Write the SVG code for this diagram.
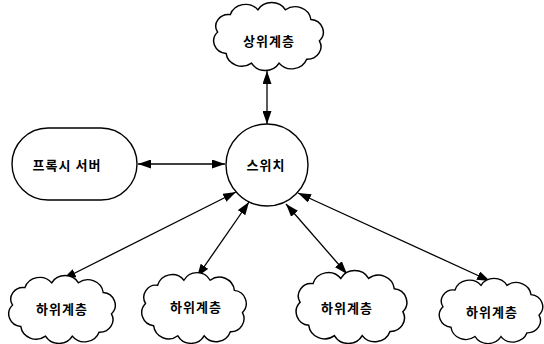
<svg xmlns="http://www.w3.org/2000/svg" width="544" height="344" viewBox="0 0 544 344">
  <style>
    .shape { fill: #fff; stroke: #000; stroke-width: 1.4; }
    .cloud { fill: #fff; stroke: #000; stroke-width: 1.4; vector-effect: non-scaling-stroke; }
    .label { font-family: "Noto Sans CJK KR", sans-serif; font-size: 13px; font-weight: bold; letter-spacing: 1px; fill: #000; text-anchor: middle; dominant-baseline: central; }
    .link { stroke: #000; stroke-width: 1.3; fill: none; marker-start: url(#head); marker-end: url(#head); }
  </style>
  <defs>
    <marker id="head" viewBox="0 0 13 9" refX="13" refY="4.5" markerWidth="13" markerHeight="9" markerUnits="userSpaceOnUse" orient="auto-start-reverse">
      <path d="M0,0 L13,4.5 L0,9 z" fill="#000"/>
    </marker>
    <!-- cloud outline centred on the origin, about 107 x 70 -->
    <path id="cloud" d="M -48,-4 A 12 12 0 0 1 -36,-22 A 15 15 0 0 1 -10,-27 A 15 15 0 0 1 16,-27 A 15 15 0 0 1 40,-17 A 13 13 0 0 1 48,5 A 13 13 0 0 1 36,24 A 15 15 0 0 1 10,28 A 15 15 0 0 1 -16,28 A 15 15 0 0 1 -40,18 A 13 13 0 0 1 -48,-4 Z"/>
  </defs>

  <g id="connectors">
    <line class="link" x1="267" y1="71" x2="267" y2="124"/>
    <line class="link" x1="138" y1="164" x2="225" y2="164"/>
    <line class="link" x1="236" y1="192" x2="63" y2="279"/>
    <line class="link" x1="249" y1="202" x2="197" y2="277"/>
    <line class="link" x1="286" y1="204" x2="347" y2="274"/>
    <line class="link" x1="298" y1="193" x2="490" y2="281"/>
  </g>

  <g id="upper">
    <use href="#cloud" class="cloud" transform="translate(268.5,36) scale(1.06,0.97)"/>
    <text class="label" x="269" y="40">상위계층</text>
  </g>

  <g id="switch">
    <circle class="shape" cx="267" cy="165" r="41"/>
    <text class="label" x="266" y="164">스위치</text>
  </g>

  <g id="proxy">
    <rect class="shape" x="12" y="128" width="125" height="72" rx="36" ry="36"/>
    <text class="label" x="67" y="164">프록시 서버</text>
  </g>

  <g id="lower1">
    <use href="#cloud" class="cloud" transform="translate(62,309) scale(1.03,0.97)"/>
    <text class="label" x="62" y="308">하위계층</text>
  </g>

  <g id="lower2">
    <use href="#cloud" class="cloud" transform="translate(194,307.5) scale(1.01,1.01)"/>
    <text class="label" x="196" y="306">하위계층</text>
  </g>

  <g id="lower3">
    <use href="#cloud" class="cloud" transform="translate(351.5,306.5) scale(1.07,1.04)"/>
    <text class="label" x="347" y="307">하위계층</text>
  </g>

  <g id="lower4">
    <use href="#cloud" class="cloud" transform="translate(491,310.5) scale(1.0,0.93)"/>
    <text class="label" x="492" y="311">하위계층</text>
  </g>
</svg>
